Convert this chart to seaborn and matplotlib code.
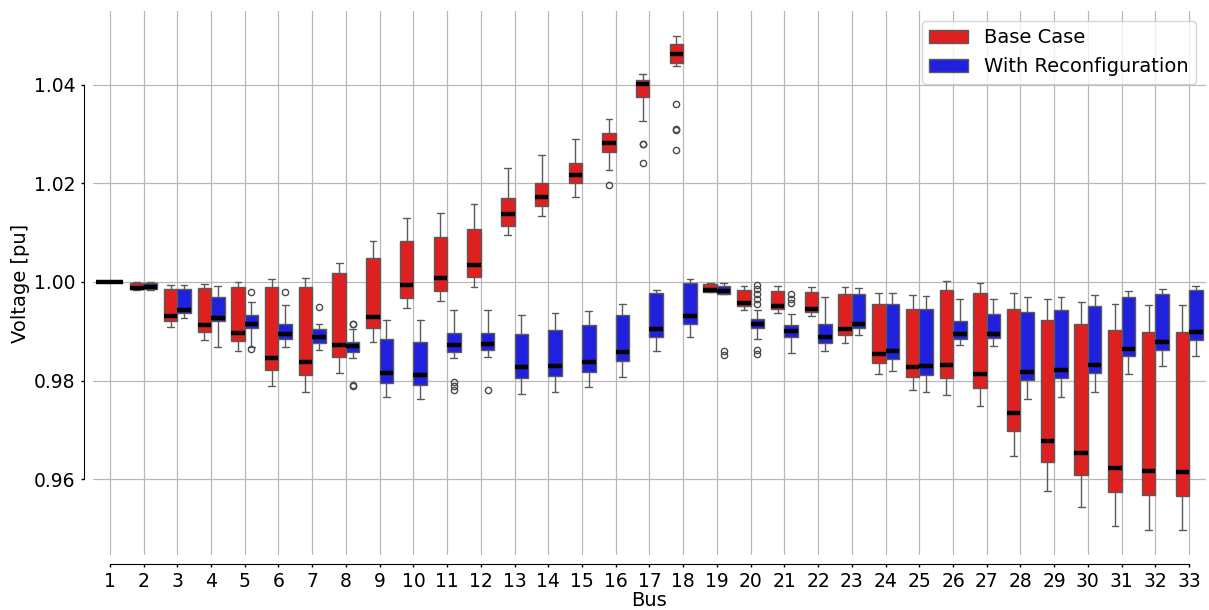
import numpy as np
import pandas as pd
import matplotlib
matplotlib.use("Agg")
import matplotlib.pyplot as plt
import seaborn as sns

# Bus numbers of the 33-bus feeder
buses = [str(b) for b in range(1, 34)]
scenarios = ["Base Case", "With Reconfiguration"]

# Voltage box statistics per bus [pu]: lower whisker, Q1, median, Q3, upper whisker
base_lo = [1.0000, 0.9984, 0.99084, 0.98828, 0.98593, 0.97886, 0.97771, 0.98155, 0.98781, 0.99468,
           0.99616, 0.99902, 1.00946, 1.01331, 1.01716, 1.02270, 1.03270, 1.04378, 0.99791, 0.99439,
           0.99372, 0.99318, 0.98764, 0.98128, 0.97818, 0.97713, 0.97486, 0.96480, 0.95764, 0.95440,
           0.95061, 0.94986, 0.94966]
base_q1 = [1.0000, 0.9985, 0.99205, 0.98990, 0.98795, 0.98209, 0.98114, 0.98475, 0.99064, 0.99684,
           0.99818, 1.00091, 1.01130, 1.01534, 1.02000, 1.02628, 1.03743, 1.04439, 0.99791, 0.99507,
           0.99453, 0.99392, 0.98919, 0.98358, 0.98085, 0.98058, 0.97858, 0.96980, 0.96358, 0.96081,
           0.95750, 0.95676, 0.95655]
base_med = [1.0000, 0.9988, 0.99320, 0.99131, 0.98970, 0.98458, 0.98384, 0.98731, 0.99300, 0.99933,
            1.00074, 1.00344, 1.01376, 1.01730, 1.02162, 1.02811, 1.04020, 1.04622, 0.99845, 0.99568,
            0.99507, 0.99459, 0.99041, 0.98541, 0.98288, 0.98321, 0.98135, 0.97338, 0.96770, 0.96527,
            0.96223, 0.96162, 0.96142]
base_q3 = [1.0000, 0.9997, 0.99859, 0.99872, 0.99899, 0.99899, 0.99899, 1.00178, 1.00478, 1.00822,
           1.00921, 1.01076, 1.01693, 1.02007, 1.02419, 1.03014, 1.04088, 1.04824, 0.99966, 0.99845,
           0.99824, 0.99804, 0.99757, 0.99561, 0.99453, 0.99838, 0.99777, 0.99453, 0.99236, 0.99142,
           0.99020, 0.98993, 0.98986]
base_hi = [1.0000, 0.99995, 0.99940, 0.99966, 1.00007, 1.00054, 1.00074, 1.00375, 1.00822, 1.01300,
           1.01400, 1.01590, 1.02304, 1.02574, 1.02892, 1.03304, 1.04216, 1.04986, 0.99980, 0.99919,
           0.99912, 0.99899, 0.99892, 0.99777, 0.99730, 1.00020, 0.99980, 0.99770, 0.99649, 0.99601,
           0.99547, 0.99534, 0.99527]
base_out = {"16": [1.01973],
            "17": [1.02797, 1.02800, 1.02412],
            "18": [1.03615, 1.03088, 1.03092, 1.02669]}

reco_lo = [1.0000, 0.9984, 0.99266, 0.98673, 0.98675, 0.98680, 0.98620, 0.98458, 0.97677, 0.97630,
           0.98458, 0.98478, 0.97737, 0.97771, 0.97865, 0.98081, 0.98597, 0.98885, 0.99757, 0.98845,
           0.98561, 0.98608, 0.98919, 0.98189, 0.97774, 0.98716, 0.98703, 0.97622, 0.97662, 0.97764,
           0.98135, 0.98291, 0.98500]
reco_q1 = [1.0000, 0.9985, 0.99367, 0.99212, 0.99064, 0.98842, 0.98774, 0.98586, 0.97953, 0.97912,
           0.98572, 0.98620, 0.98047, 0.98088, 0.98175, 0.98391, 0.98884, 0.99155, 0.99757, 0.99061,
           0.98878, 0.98770, 0.99061, 0.98446, 0.98115, 0.98852, 0.98865, 0.98007, 0.98047, 0.98149,
           0.98493, 0.98628, 0.98818]
reco_med = [1.0000, 0.9990, 0.99434, 0.99279, 0.99152, 0.98949, 0.98882, 0.98711, 0.98148, 0.98108,
            0.98714, 0.98747, 0.98269, 0.98296, 0.98370, 0.98572, 0.99053, 0.99311, 0.99818, 0.99155,
            0.99014, 0.98892, 0.99155, 0.98601, 0.98297, 0.98943, 0.98953, 0.98182, 0.98216, 0.98318,
            0.98649, 0.98791, 0.98980]
reco_q3 = [1.0000, 0.9998, 0.99852, 0.99697, 0.99333, 0.99158, 0.99044, 0.98781, 0.98848, 0.98781,
           0.98970, 0.98976, 0.98956, 0.99030, 0.99125, 0.99340, 0.99778, 0.99980, 0.99926, 0.99250,
           0.99122, 0.99149, 0.99764, 0.99561, 0.99456, 0.99216, 0.99351, 0.99392, 0.99432, 0.99514,
           0.99689, 0.99757, 0.99831]
reco_hi = [1.0000, 0.99998, 0.99933, 0.99926, 0.99603, 0.99542, 0.99158, 0.99048, 0.99226, 0.99226,
           0.99441, 0.99441, 0.99333, 0.99374, 0.99421, 0.99549, 0.99845, 1.00054, 0.99980, 0.99439,
           0.99351, 0.99696, 0.99872, 0.99777, 0.99720, 0.99662, 0.99662, 0.99689, 0.99703, 0.99743,
           0.99824, 0.99865, 0.99926]
reco_out = {"5": [0.99805, 0.98650],
            "6": [0.99798],
            "7": [0.99495],
            "8": [0.99145, 0.99140, 0.97922, 0.97900],
            "11": [0.97965, 0.97900, 0.97810],
            "12": [0.97811],
            "19": [0.98601, 0.98527],
            "20": [0.99946, 0.99858, 0.99757, 0.99655, 0.99554, 0.98628, 0.98547],
            "21": [0.99750, 0.99655, 0.99568]}


def samples(lo, q1, med, q3, hi, extra, k=20):
    """Sample set whose quartiles and whisker ends equal the given statistics."""
    return [lo] + [q1] * k + [med] * k + [q3] * k + [hi] + list(extra)


rows = []
series = [
    ("Base Case", base_lo, base_q1, base_med, base_q3, base_hi, base_out),
    ("With Reconfiguration", reco_lo, reco_q1, reco_med, reco_q3, reco_hi, reco_out),
]
for name, lo, q1, med, q3, hi, out in series:
    for i, bus in enumerate(buses):
        for v in samples(lo[i], q1[i], med[i], q3[i], hi[i], out.get(bus, [])):
            rows.append({"Bus": bus, "Voltage": v, "Scenario": name})
df = pd.DataFrame(rows)

sns.set_style("ticks", {"axes.grid": True, "grid.color": "#b0b0b0"})
plt.rcParams["font.family"] = ["DejaVu Sans"]
plt.rcParams.update({
    "text.color": "black",
    "axes.labelcolor": "black",
    "axes.edgecolor": "black",
    "xtick.color": "black",
    "ytick.color": "black",
})

fig, ax = plt.subplots(figsize=(12.09, 6.10), dpi=100)
fig.subplots_adjust(left=0.0769, right=0.9975, top=0.982, bottom=0.0902)

sns.boxplot(
    data=df, x="Bus", y="Voltage", hue="Scenario",
    order=buses, hue_order=scenarios,
    palette=["red", "blue"], saturation=0.75,
    width=0.8, gap=0, linewidth=1.0, linecolor="#5a5a5a",
    fliersize=4.5,
    medianprops={"color": "black", "linewidth": 3.2},
    flierprops={"markerfacecolor": "none", "markeredgecolor": "#4a4a4a"},
    ax=ax,
)

ax.set_ylim(0.9447, 1.0549)
ax.set_yticks([0.96, 0.98, 1.00, 1.02, 1.04])
ax.grid(True, axis="both", color="#b8b8b8", linewidth=0.9)
ax.set_axisbelow(True)
ax.set_xlabel("Bus", fontsize=14, labelpad=0)
ax.set_ylabel("Voltage [pu]", fontsize=14, labelpad=3)
ax.tick_params(axis="both", labelsize=13.5, length=2.5, width=1, colors="black")

ax.legend(loc="upper right", fontsize=14, title=None, frameon=True)

sns.despine(ax=ax, offset=6.5, trim=True)

fig.savefig("out.png", dpi=100)
